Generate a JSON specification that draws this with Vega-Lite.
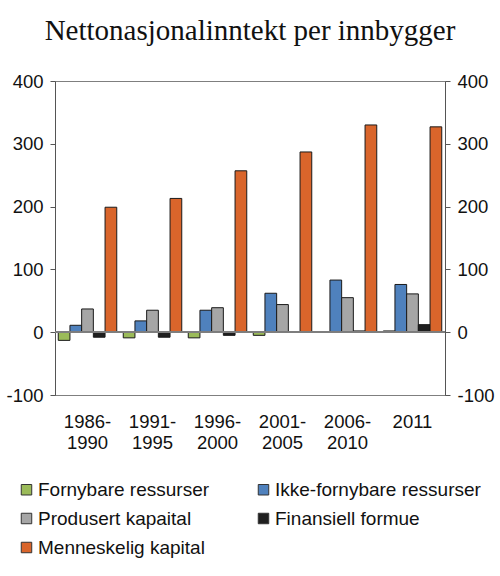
{
  "$schema": "https://vega.github.io/schema/vega-lite/v6.json",
  "autosize": {"type": "none"},
  "padding": {"left": 55, "top": 81, "right": 55, "bottom": 181},
  "width": 390,
  "height": 314,
  "title": {
    "text": "Nettonasjonalinntekt per innbygger",
    "font": "Liberation Serif",
    "fontSize": 29,
    "fontWeight": "normal",
    "color": "#111",
    "anchor": "middle",
    "offset": 26
  },
  "data": {
    "values": [
      {"period": "1986-1990", "serie": "Fornybare ressurser", "value": -13},
      {"period": "1986-1990", "serie": "Ikke-fornybare ressurser", "value": 11},
      {"period": "1986-1990", "serie": "Produsert kapaital", "value": 37},
      {"period": "1986-1990", "serie": "Finansiell formue", "value": -8},
      {"period": "1986-1990", "serie": "Menneskelig kapital", "value": 199},
      {"period": "1991-1995", "serie": "Fornybare ressurser", "value": -9},
      {"period": "1991-1995", "serie": "Ikke-fornybare ressurser", "value": 18},
      {"period": "1991-1995", "serie": "Produsert kapaital", "value": 35},
      {"period": "1991-1995", "serie": "Finansiell formue", "value": -8},
      {"period": "1991-1995", "serie": "Menneskelig kapital", "value": 213},
      {"period": "1996-2000", "serie": "Fornybare ressurser", "value": -9},
      {"period": "1996-2000", "serie": "Ikke-fornybare ressurser", "value": 35},
      {"period": "1996-2000", "serie": "Produsert kapaital", "value": 39},
      {"period": "1996-2000", "serie": "Finansiell formue", "value": -5},
      {"period": "1996-2000", "serie": "Menneskelig kapital", "value": 257},
      {"period": "2001-2005", "serie": "Fornybare ressurser", "value": -5},
      {"period": "2001-2005", "serie": "Ikke-fornybare ressurser", "value": 62},
      {"period": "2001-2005", "serie": "Produsert kapaital", "value": 44},
      {"period": "2001-2005", "serie": "Finansiell formue", "value": 0},
      {"period": "2001-2005", "serie": "Menneskelig kapital", "value": 287},
      {"period": "2006-2010", "serie": "Fornybare ressurser", "value": 0},
      {"period": "2006-2010", "serie": "Ikke-fornybare ressurser", "value": 83},
      {"period": "2006-2010", "serie": "Produsert kapaital", "value": 55},
      {"period": "2006-2010", "serie": "Finansiell formue", "value": 2},
      {"period": "2006-2010", "serie": "Menneskelig kapital", "value": 330},
      {"period": "2011", "serie": "Fornybare ressurser", "value": 2},
      {"period": "2011", "serie": "Ikke-fornybare ressurser", "value": 76},
      {"period": "2011", "serie": "Produsert kapaital", "value": 61},
      {"period": "2011", "serie": "Finansiell formue", "value": 12},
      {"period": "2011", "serie": "Menneskelig kapital", "value": 327}
    ]
  },
  "layer": [
    {
      "mark": {"type": "bar", "stroke": "#1a1a1a", "strokeWidth": 1},
      "encoding": {
        "x": {
          "field": "period",
          "type": "nominal",
          "sort": null,
          "scale": {"paddingInner": 0.1, "paddingOuter": 0.05},
          "axis": {
            "title": null,
            "labelAngle": 0,
            "ticks": false,
            "domainColor": "#7f7f7f",
            "labelPadding": 17,
            "labelLineHeight": 21,
            "labelExpr": "datum.value == '2011' ? '2011' : [slice(datum.value, 0, 5), slice(datum.value, 5)]"
          }
        },
        "xOffset": {
          "field": "serie",
          "type": "nominal",
          "sort": ["Fornybare ressurser", "Ikke-fornybare ressurser", "Produsert kapaital", "Finansiell formue", "Menneskelig kapital"],
          "scale": {"paddingInner": 0, "paddingOuter": 0}
        },
        "y": {
          "field": "value",
          "type": "quantitative",
          "scale": {"domain": [-100, 400], "nice": false},
          "axis": {"title": null, "orient": "left", "values": [-100, 0, 100, 200, 300, 400], "grid": false, "labelExpr": "replace(datum.label, '−', '-')"}
        },
        "color": {
          "field": "serie",
          "type": "nominal",
          "scale": {
            "domain": ["Fornybare ressurser", "Ikke-fornybare ressurser", "Produsert kapaital", "Finansiell formue", "Menneskelig kapital"],
            "range": ["#9bbb59", "#4f81bd", "#a6a6a6", "#1f1f1f", "#d9652b"]
          },
          "legend": {
            "title": null,
            "orient": "none",
            "legendX": -38,
            "legendY": 399,
            "direction": "horizontal",
            "columns": 2,
            "columnPadding": 44,
            "rowPadding": 9,
            "symbolType": "square",
            "symbolSize": 110,
            "symbolStrokeColor": "#333",
            "symbolStrokeWidth": 1,
            "labelFont": "Liberation Sans",
            "labelFontSize": 19,
            "labelLimit": 0,
            "labelColor": "#111",
            "labelOffset": 2
          }
        }
      }
    },
    {
      "mark": {"type": "rule", "color": "#7f7f7f", "strokeWidth": 1},
      "encoding": {
        "y": {
          "datum": 0,
          "type": "quantitative",
          "axis": {"title": null, "orient": "right", "values": [-100, 0, 100, 200, 300, 400], "grid": false, "labelExpr": "replace(datum.label, '−', '-')"}
        }
      }
    }
  ],
  "resolve": {"axis": {"y": "independent"}},
  "config": {
    "view": {"stroke": "#7f7f7f"},
    "axis": {
      "labelFont": "Liberation Sans",
      "labelFontSize": 18.5,
      "labelColor": "#111",
      "domainColor": "#555",
      "tickColor": "#555",
      "tickSize": 5,
      "labelPadding": 7
    }
  }
}
